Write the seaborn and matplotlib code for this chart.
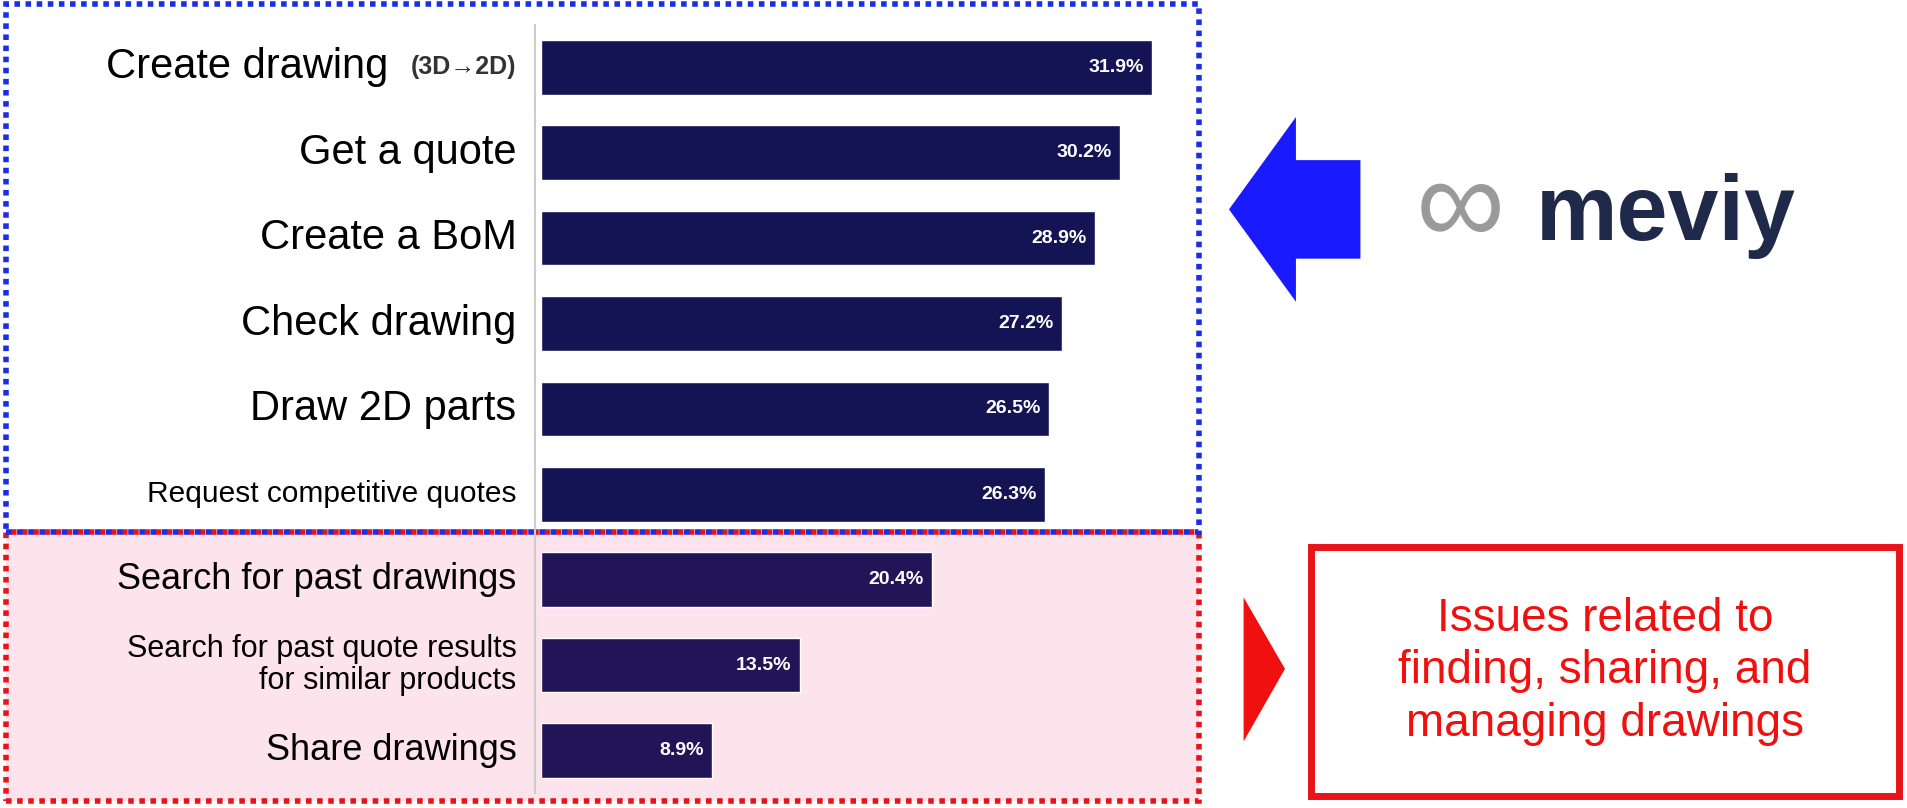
import matplotlib
matplotlib.use("Agg")
import matplotlib.pyplot as plt
import seaborn as sns
import pandas as pd
from matplotlib.patches import Rectangle, Polygon
import matplotlib.transforms as mtrans

categories = ["Create drawing", "Get a quote", "Create a BoM", "Check drawing", "Draw 2D parts",
              "Request competitive quotes", "Search for past drawings",
              "Search for past quote results\nfor similar products", "Share drawings"]
values = [31.9, 30.2, 28.9, 27.2, 26.5, 26.3, 20.4, 13.5, 8.9]
value_labels = ["31.9%", "30.2%", "28.9%", "27.2%", "26.5%", "26.3%", "20.4%", "13.5%", "8.9%"]
label_sizes = [30, 30, 30, 30, 30, 21.5, 26, 22, 26]

sns.set_theme(style="white")
plt.rcParams['font.family'] = ['Liberation Sans', 'DejaVu Sans']

W, H = 1568, 656
fig = plt.figure(figsize=(19.08, 8.08), dpi=100)
fig.patch.set_facecolor("white")

def fx(x): return x / W
def fy(y): return 1 - y / H

fig.patches.append(Rectangle((fx(5), fy(650)), fx(980), (650-432)/H, transform=fig.transFigure,
                             facecolor="#fde4ec", edgecolor="#e8141a", lw=4, ls=(0, (1, 1)), zorder=0))
fig.patches.append(Rectangle((fx(5), fy(432)), fx(980), (432-3)/H, transform=fig.transFigure,
                             facecolor="none", edgecolor="#1a2ee6", lw=4, ls=(0, (1, 1)), zorder=5))

ax = fig.add_axes([fx(445), fy(644), fx(540), (644-20)/H])
ax.set_zorder(2)
ax.patch.set_alpha(0)
df = pd.DataFrame({"cat": categories, "val": values})
colors = ["#0a0a5e"] * 6 + ["#1c0a62"] * 3
sns.barplot(data=df, x="val", y="cat", hue="cat", palette=colors, orient="h",
            width=0.64, legend=False, ax=ax)
ax.set_xlim(0, 540/15.74)
ax.set_ylim(8.5, -0.5)
ax.set_xlabel(""); ax.set_ylabel("")
ax.set_xticks([]); ax.set_yticks([])
for s in ["top", "right", "bottom"]:
    ax.spines[s].set_visible(False)
ax.spines["left"].set_color("#cccccc")
ax.spines["left"].set_linewidth(1.5)
ax.spines["left"].set_position(("outward", 5))

off = mtrans.offset_copy(ax.transData, fig=fig, x=-18, y=0, units="points")
for i, (c, s) in enumerate(zip(categories, label_sizes)):
    if i == 0:
        ax.text(0, i, "(3D→2D)", transform=off, ha="right", va="center", fontsize=18,
                fontweight="bold", color="#333333")
        off2 = mtrans.offset_copy(ax.transData, fig=fig, x=-110, y=0, units="points")
        ax.text(0, i, c, transform=off2, ha="right", va="center", fontsize=s, color="black")
    else:
        ax.text(0, i, c, transform=off, ha="right", va="center", fontsize=s, color="black",
                multialignment="right", linespacing=1.1)
offv = mtrans.offset_copy(ax.transData, fig=fig, x=-6, y=0, units="points")
for i, (v, l) in enumerate(zip(values, value_labels)):
    ax.text(v, i, l, transform=offv, ha="right", va="center", fontsize=14,
            fontweight="bold", color="white")

bx = [1010, 1065, 1065, 1118, 1118, 1065, 1065]
by = [170, 95, 130, 130, 210, 210, 245]
fig.patches.append(Polygon([(fx(a), fy(b)) for a, b in zip(bx, by)], closed=True,
                           transform=fig.transFigure, facecolor="#1a1aff", edgecolor="none"))
fig.text(fx(1200), fy(172), "∞", fontsize=90, color="#9a9a9a", ha="center", va="center")
fig.text(fx(1262), fy(175), "meviy", fontsize=66, fontweight="bold", color="#1f2a4a",
         ha="left", va="center")

fig.patches.append(Polygon([(fx(1022), fy(485)), (fx(1022), fy(602)), (fx(1056), fy(543))],
                           closed=True, transform=fig.transFigure, facecolor="#f01010", edgecolor="none"))
fig.patches.append(Rectangle((fx(1077), fy(646)), fx(484), (646-444)/H, transform=fig.transFigure,
                             facecolor="white", edgecolor="#e8141a", lw=5))
fig.text(fx(1319), fy(545), "Issues related to\nfinding, sharing, and\nmanaging drawings",
         fontsize=33, color="#f01010", ha="center", va="center", linespacing=1.25)

fig.savefig("out.png", dpi=100)
